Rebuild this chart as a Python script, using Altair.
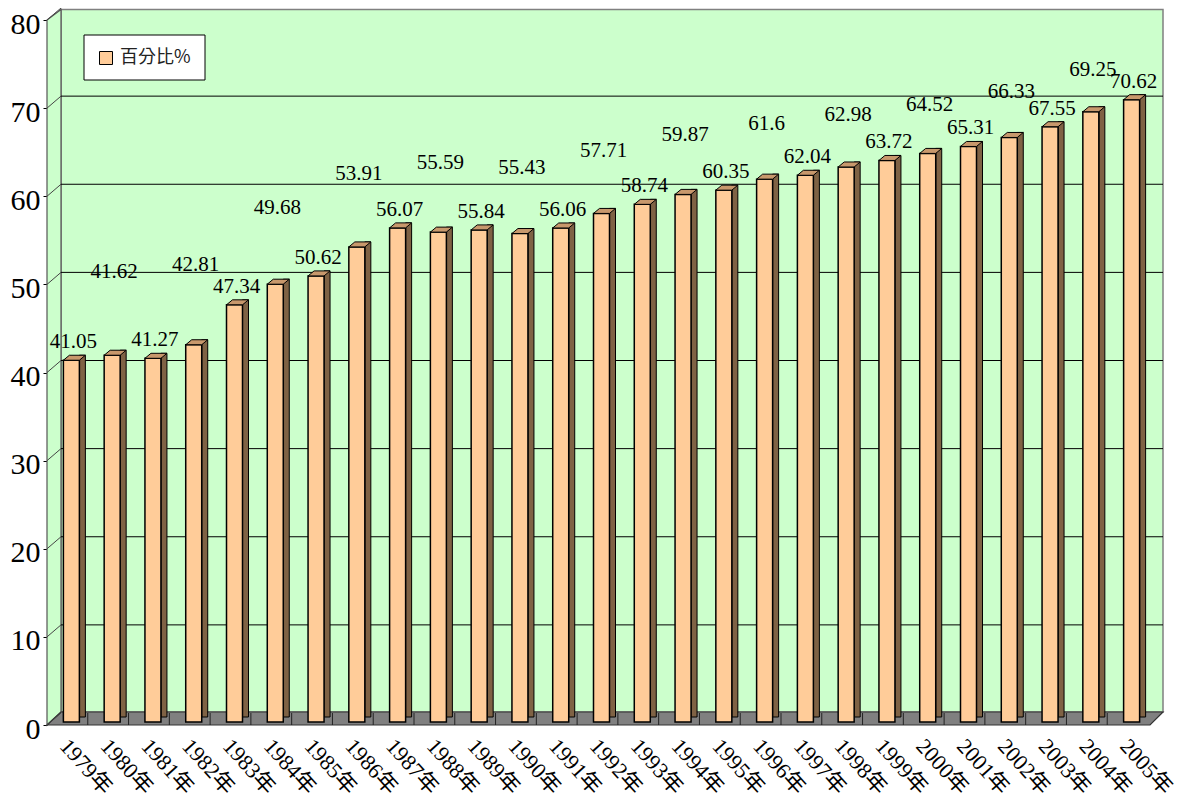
import altair as alt
import pandas as pd

# ---- data ----
years = [1979, 1980, 1981, 1982, 1983, 1984, 1985, 1986, 1987, 1988, 1989, 1990,
         1991, 1992, 1993, 1994, 1995, 1996, 1997, 1998, 1999, 2000, 2001, 2002,
         2003, 2004, 2005]
year_labels = [f"{y}年" for y in years]
values = [41.05, 41.62, 41.27, 42.81, 47.34, 49.68, 50.62, 53.91, 56.07, 55.59,
          55.84, 55.43, 56.06, 57.71, 58.74, 59.87, 60.35, 61.6, 62.04, 62.98,
          63.72, 64.52, 65.31, 66.33, 67.55, 69.25, 70.62]
series_name = "百分比%"
y_ticks = [0, 10, 20, 30, 40, 50, 60, 70, 80]
grid_ticks = [10, 20, 30, 40, 50, 60, 70]

df = pd.DataFrame({
    "year": year_labels,
    "value": values,
    "idx": list(range(len(values))),
    "label": [str(v) for v in values],
})
ticks_df = pd.DataFrame({"v": y_ticks})
grid_df = pd.DataFrame({"v": grid_ticks})
legend_df = pd.DataFrame({"name": [series_name]})
one = pd.DataFrame({"a": [0]})

W, H = 1101, 705
PX_PER_UNIT = H / 80.0

# ---- frame decoration: the 3D box (pixel shapes, size=4 -> 1px per path unit) ----
back_wall = alt.Chart(one).mark_rect(fill="#CCFFCC", stroke="#808080", strokeWidth=1.5).encode(
    x=alt.value(10), x2=alt.value(1112), y=alt.value(-7.5), y2=alt.value(695))
left_wall = alt.Chart(one).mark_point(
    shape="M -4 3 L 10 -7.5 L 10 695 L -4 708 Z", size=4, filled=True, opacity=1,
    color="#CCFFCC", stroke="#555555", strokeWidth=1.2).encode(x=alt.value(0), y=alt.value(0))
floor = alt.Chart(one).mark_point(
    shape="M -4 708 L 10 695 L 1112 695 L 1099 708 Z", size=4, filled=True, opacity=1,
    color="#808080", stroke="#333333", strokeWidth=1.2).encode(x=alt.value(0), y=alt.value(0))

# ---- scales ----
xscale = alt.Scale(domain=year_labels, paddingInner=0, paddingOuter=0)
yscale = alt.Scale(domain=[0, 80], nice=False, zero=True)

x_axis = alt.Axis(orient="bottom", domain=False, ticks=False, labelAngle=48,
                  labelAlign="left", labelBaseline="top", labelPadding=13,
                  labelFont="Liberation Serif, Noto Sans CJK TC", labelFontSize=22,
                  labelColor="black", labelOverlap=False, title=None)
y_axis = alt.Axis(orient="left", values=y_ticks, domain=False, grid=False,
                  offset=4, tickSize=4, tickColor="black", tickOffset=3,
                  labelPadding=3, labelFont="Liberation Serif", labelFontSize=30,
                  labelColor="black", labelOffset=4, title=None)

xfield = alt.X("year:N", sort=year_labels, scale=xscale, axis=x_axis, title=None)


def yf(name):
    return alt.Y(name, scale=yscale, axis=y_axis, title=None)


grid = alt.Chart(grid_df).mark_rule(color="black", strokeWidth=1, yOffset=-9).encode(
    y=yf("v:Q"), x=alt.value(10), x2=alt.value(1112))

slants = alt.Chart(ticks_df).mark_rule(color="#444444", strokeWidth=1, yOffset=3, y2Offset=-9).encode(
    y=yf("v:Q"), y2="v:Q", x=alt.value(-4), x2=alt.value(10))

floor_ticks = alt.Chart(df).transform_filter("datum.idx > 0").mark_rule(
    color="#222222", strokeWidth=1, xOffset=-4).encode(
    x=alt.X("year:N", sort=year_labels, scale=xscale, axis=x_axis, bandPosition=0, title=None),
    y=alt.value(696), y2=alt.value(708))

side = alt.Chart(df).mark_bar(size=6, xOffset=11, yOffset=-5, y2Offset=-5,
                              fill="#7F6244", stroke="black", strokeWidth=1).encode(
    x=xfield, y=yf("value:Q"))

front = alt.Chart(df).mark_bar(size=16, fill="#FFCC99", stroke="black", strokeWidth=1.5).encode(
    x=xfield, y=yf("value:Q"))

top = alt.Chart(df).mark_point(shape="M -8 0 L 8 0 L 14 -5 L -2 -5 Z", size=4, filled=True,
                               color="#C8986C", stroke="black", strokeWidth=1, opacity=1).encode(
    x=xfield, y=yf("value:Q"))

labels = alt.Chart(df).transform_calculate(
    label_y=f"datum.idx % 2 == 1 ? datum.value + (84.5 - 1.7 * datum.idx) / {PX_PER_UNIT} "
            f": datum.value + 18 / {PX_PER_UNIT}"
).mark_text(font="Liberation Serif", fontSize=21, baseline="middle", dx=2, color="black").encode(
    x=xfield, y=yf("label_y:Q"), text="label:N")

legend_box = alt.Chart(legend_df).mark_rect(fill="white", stroke="black", strokeWidth=1).encode(
    x=alt.value(33), x2=alt.value(154), y=alt.value(18), y2=alt.value(63))
legend_sym = alt.Chart(legend_df).mark_square(size=169, filled=True, color="#FFCC99",
                                              stroke="black", strokeWidth=1, opacity=1).encode(
    x=alt.value(55), y=alt.value(41))
legend_txt = alt.Chart(legend_df).mark_text(align="left", baseline="middle", fontSize=18,
                                            font="Noto Sans CJK TC", color="#222222").encode(
    x=alt.value(69), y=alt.value(41), text="name:N")

chart = alt.layer(back_wall, left_wall, floor, grid, slants, floor_ticks, side, front, top,
                  labels, legend_box, legend_sym, legend_txt).properties(
    width=W, height=H,
    autosize=alt.AutoSizeParams(type="none"),
    padding={"left": 43, "top": 9, "right": 33, "bottom": 82},
    background="white",
).configure_view(stroke=None)

chart.save("out.html", embed_options={"renderer": "svg", "actions": False})
